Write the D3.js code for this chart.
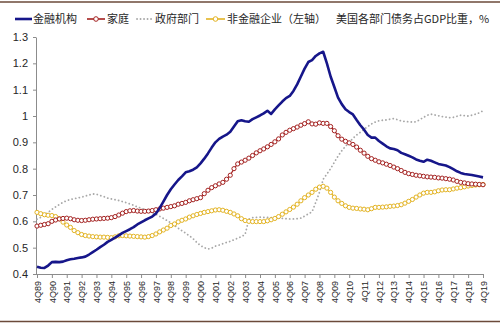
<!DOCTYPE html>
<html><head><meta charset="utf-8">
<script src="https://cdn.jsdelivr.net/npm/d3@7"></script>
<style>body{margin:0;background:#fff}</style>
</head><body>
<svg id="c" width="500" height="324"></svg>
<script>
const tickLabels = ["4Q89","4Q90","4Q91","4Q92","4Q93","4Q94","4Q95","4Q96","4Q97","4Q98","4Q99","4Q00","4Q01","4Q02","4Q03","4Q04","4Q05","4Q06","4Q07","4Q08","4Q09","4Q10","4Q11","4Q12","4Q13","4Q14","4Q15","4Q16","4Q17","4Q18","4Q19"];
const yTicks = [0.4,0.5,0.6,0.7,0.8,0.9,1.0,1.1,1.2,1.3];
const seriesNames = ["金融机构","家庭","政府部门","非金融企业（左轴）"];
const titleText = "美国各部门债务占GDP比重，%";

// quarterly values, 4Q89 .. 4Q19
const financial = [0.428,0.424,0.423,0.432,0.445,0.446,0.445,0.447,0.452,0.456,0.458,0.461,0.463,0.466,0.474,0.483,0.492,0.502,0.511,0.522,
0.530,0.538,0.547,0.556,0.563,0.570,0.578,0.588,0.596,0.604,0.611,0.618,0.630,0.650,0.675,0.700,0.722,0.740,0.757,0.771,
0.786,0.790,0.796,0.805,0.820,0.838,0.858,0.880,0.900,0.913,0.922,0.929,0.940,0.960,0.980,0.984,0.980,0.978,0.988,0.995,
1.002,1.010,1.020,1.008,1.025,1.040,1.055,1.068,1.076,1.095,1.120,1.150,1.180,1.205,1.212,1.228,1.238,1.244,1.200,1.150,
1.110,1.070,1.045,1.026,1.015,1.006,0.985,0.965,0.948,0.928,0.918,0.918,0.905,0.895,0.885,0.877,0.875,0.870,0.860,0.855,
0.849,0.843,0.835,0.830,0.826,0.834,0.830,0.824,0.818,0.815,0.812,0.806,0.798,0.790,0.784,0.780,0.778,0.776,0.773,0.770,0.767];
const household = [0.582,0.585,0.588,0.591,0.600,0.605,0.609,0.611,0.612,0.610,0.606,0.604,0.603,0.604,0.606,0.608,0.609,0.610,0.611,0.612,
0.614,0.618,0.624,0.631,0.637,0.640,0.641,0.639,0.638,0.638,0.639,0.641,0.644,0.647,0.650,0.653,0.656,0.659,0.665,0.668,
0.672,0.678,0.682,0.686,0.690,0.705,0.718,0.728,0.735,0.742,0.748,0.760,0.775,0.800,0.818,0.825,0.832,0.840,0.850,0.860,
0.868,0.875,0.883,0.892,0.902,0.913,0.928,0.938,0.946,0.952,0.958,0.965,0.971,0.978,0.970,0.969,0.974,0.972,0.972,0.960,
0.944,0.925,0.912,0.904,0.898,0.892,0.882,0.870,0.859,0.847,0.838,0.832,0.826,0.822,0.817,0.812,0.806,0.800,0.793,0.786,
0.781,0.778,0.775,0.773,0.771,0.769,0.768,0.767,0.765,0.764,0.762,0.760,0.757,0.752,0.748,0.746,0.743,0.742,0.741,0.740,0.739];
const government = [0.608,0.615,0.625,0.634,0.645,0.655,0.664,0.672,0.679,0.683,0.686,0.689,0.692,0.696,0.700,0.704,0.703,0.698,0.694,0.688,
0.685,0.682,0.679,0.675,0.671,0.666,0.661,0.655,0.650,0.645,0.639,0.634,0.627,0.619,0.611,0.603,0.594,0.585,0.574,0.564,
0.555,0.545,0.534,0.520,0.508,0.500,0.495,0.498,0.506,0.510,0.515,0.520,0.524,0.530,0.536,0.542,0.550,0.608,0.614,0.615,
0.616,0.615,0.615,0.614,0.613,0.612,0.611,0.610,0.609,0.609,0.610,0.612,0.620,0.628,0.636,0.672,0.710,0.760,0.780,0.800,
0.824,0.848,0.868,0.885,0.900,0.915,0.928,0.938,0.950,0.960,0.970,0.977,0.982,0.984,0.985,0.988,0.990,0.986,0.981,0.979,
0.978,0.977,0.978,0.986,0.995,1.003,1.007,1.004,1.001,0.998,0.996,0.994,0.995,0.999,1.003,1.001,1.000,1.003,1.007,1.012,1.020];
const nonfinancial = [0.634,0.629,0.625,0.623,0.622,0.618,0.610,0.597,0.586,0.577,0.565,0.557,0.550,0.546,0.544,0.542,0.541,0.540,0.540,0.539,
0.538,0.541,0.545,0.546,0.545,0.544,0.543,0.542,0.541,0.540,0.542,0.546,0.552,0.560,0.567,0.574,0.584,0.590,0.598,0.604,
0.609,0.616,0.621,0.626,0.630,0.634,0.637,0.640,0.643,0.644,0.642,0.638,0.634,0.628,0.621,0.610,0.603,0.600,0.599,0.599,
0.599,0.599,0.602,0.606,0.611,0.618,0.627,0.636,0.645,0.654,0.665,0.678,0.690,0.700,0.710,0.722,0.730,0.733,0.726,0.710,
0.692,0.678,0.668,0.659,0.653,0.650,0.649,0.647,0.646,0.644,0.648,0.653,0.653,0.654,0.655,0.657,0.658,0.660,0.663,0.669,
0.676,0.683,0.692,0.700,0.707,0.710,0.710,0.712,0.716,0.719,0.720,0.720,0.723,0.726,0.728,0.731,0.734,0.736,0.738,0.739,0.740];

const C = {blue:"#16168a", red:"#a3201f", grey:"#a8a8a8", yellow:"#e3b322", border:"#6b4a3a", axis:"#8c8c8c", text:"#262626"};
const svg = d3.select("#c");
const x = d3.scaleLinear().domain([0, financial.length - 1]).range([37, 483]);
const y = d3.scaleLinear().domain([0.4, 1.3]).range([274, 37]);

// borders
svg.append("line").attr("x1",0).attr("x2",500).attr("y1",2).attr("y2",2).attr("stroke",C.border).attr("stroke-width",1.5);
svg.append("line").attr("x1",0).attr("x2",500).attr("y1",321.5).attr("y2",321.5).attr("stroke",C.border).attr("stroke-width",1.5);

// y axis
const ya = svg.append("g").attr("transform","translate(36,0)")
  .call(d3.axisLeft(y).tickValues(yTicks).tickSize(3).tickSizeOuter(0).tickFormat(d => String(+d.toFixed(1))));
ya.select(".domain").attr("stroke",C.axis);
ya.selectAll(".tick line").attr("stroke",C.axis);
ya.selectAll("text").attr("font-family","Liberation Sans, Arial, sans-serif").attr("font-size",11).attr("fill",C.text).attr("x",-8);

// x axis
const xa = svg.append("g").attr("transform","translate(0,274)")
  .call(d3.axisBottom(x).tickValues(d3.range(0, financial.length, 4)).tickSize(4).tickSizeOuter(0).tickFormat((d,i) => tickLabels[i]));
xa.select(".domain").attr("stroke",C.axis).attr("d","M36,0.5H484");
xa.selectAll(".tick line").attr("stroke",C.axis);
xa.selectAll("text").attr("font-family","Liberation Sans, Arial, sans-serif").attr("font-size",9).attr("fill",C.text)
  .attr("transform","rotate(-90)").attr("x",-7).attr("y",0).attr("dy","0.35em").attr("text-anchor","end");

const line = d3.line().x((d,i) => x(i)).y(d => y(d));

// government dotted
svg.append("path").datum(government).attr("d",line).attr("fill","none").attr("stroke",C.grey)
  .attr("stroke-width",1.8).attr("stroke-dasharray","0.1 3.6").attr("stroke-linecap","round");

function markerSeries(data, color) {
  svg.append("path").datum(data).attr("d",line).attr("fill","none").attr("stroke",color).attr("stroke-width",1.2);
  svg.append("g").selectAll("circle").data(data).join("circle")
    .attr("cx",(d,i)=>x(i)).attr("cy",d=>y(d)).attr("r",2.1)
    .attr("fill","#fff").attr("stroke",color).attr("stroke-width",1);
}
markerSeries(nonfinancial, C.yellow);
markerSeries(household, C.red);

svg.append("path").datum(financial).attr("d",line).attr("fill","none").attr("stroke",C.blue).attr("stroke-width",2.6).attr("stroke-linejoin","round");

// legend
const lg = svg.append("g").attr("font-family","Noto Sans CJK SC, sans-serif").attr("font-size",11).attr("fill",C.text);
const ly = 19;
lg.append("line").attr("x1",15).attr("x2",32).attr("y1",ly).attr("y2",ly).attr("stroke",C.blue).attr("stroke-width",2.6);
lg.append("text").attr("x",33).attr("y",ly).attr("dy","0.36em").text(seriesNames[0]);
lg.append("line").attr("x1",87).attr("x2",105).attr("y1",ly).attr("y2",ly).attr("stroke",C.red).attr("stroke-width",1.6);
lg.append("circle").attr("cx",96).attr("cy",ly).attr("r",2.3).attr("fill","#fff").attr("stroke",C.red).attr("stroke-width",1);
lg.append("text").attr("x",107).attr("y",ly).attr("dy","0.36em").text(seriesNames[1]);
lg.append("line").attr("x1",137).attr("x2",153).attr("y1",ly).attr("y2",ly).attr("stroke",C.grey).attr("stroke-width",1.8).attr("stroke-dasharray","0.1 3.4").attr("stroke-linecap","round");
lg.append("text").attr("x",155).attr("y",ly).attr("dy","0.36em").text(seriesNames[2]);
lg.append("line").attr("x1",206).attr("x2",225).attr("y1",ly).attr("y2",ly).attr("stroke",C.yellow).attr("stroke-width",1.6);
lg.append("circle").attr("cx",215.5).attr("cy",ly).attr("r",2.3).attr("fill","#fff").attr("stroke",C.yellow).attr("stroke-width",1);
lg.append("text").attr("x",227).attr("y",ly).attr("dy","0.36em").text(seriesNames[3]);
lg.append("text").attr("x",336).attr("y",ly).attr("dy","0.36em").text(titleText);
</script>
</body></html>
